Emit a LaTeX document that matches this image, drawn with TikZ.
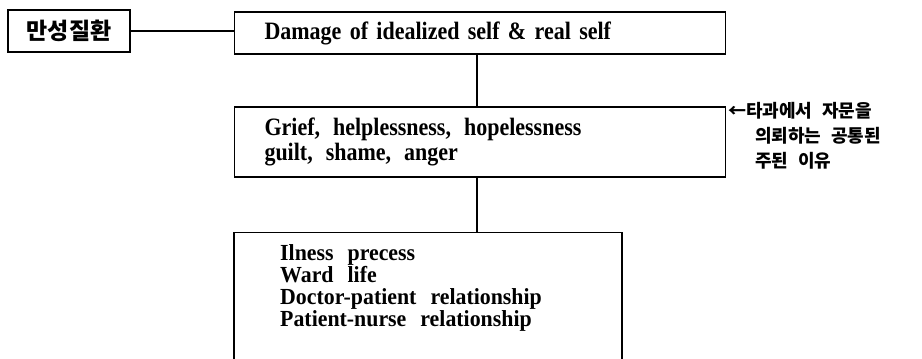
\documentclass[tikz,border=0pt]{standalone}
\usepackage{fontspec}
\setmainfont{Liberation Serif}[FakeStretch=0.88]
\newfontfamily\latb{Liberation Serif}[FakeStretch=0.95]
\newfontfamily\kr{Noto Sans CJK KR}
\newcommand\latfnt{\bfseries\fontsize{25}{25}\selectfont\setlength{\spaceskip}{14pt plus 1pt}}
\newcommand\latfntb{\latb\bfseries\fontsize{23}{21.7}\selectfont\setlength{\spaceskip}{14pt plus 1pt}\setlength{\lineskiplimit}{-30pt}}
\newcommand\krfnt{\kr\bfseries\fontsize{18}{25}\selectfont\setlength{\spaceskip}{10pt}}
\newcommand\sep{\hspace{13pt}}
\begin{document}
\begin{tikzpicture}[x=1pt,y=-1pt,
  box/.style={draw, line width=1.2pt, rectangle, inner sep=0pt},
  con/.style={line width=1.2pt}]
\useasboundingbox (0,0) rectangle (922,359);
\clip (0,0) rectangle (922,359);
\node[box, minimum width=122pt, minimum height=42pt,
      font=\kr\bfseries\fontsize{23}{23}\selectfont] (k) at (69,31) {만성질환};
\node[box, font=\latfnt, minimum height=42pt, inner xsep=30pt, text width=431pt, align=left]
  (a) at (480,33) {\raisebox{-2pt}{Damage of idealized self \& real self}};
\node[box, font=\latfnt, minimum height=70pt, inner xsep=30pt, text width=431pt, align=left]
  (b) at (480,142) {Grief,\sep helplessness,\sep hopelessness\\guilt,\sep shame,\sep anger};
\node[box, minimum width=388pt, minimum height=150pt, anchor=north] (c) at (428,232) {};
\node[font=\latfntb, inner sep=0pt, align=left, anchor=base west]
  (ct) at (280,326) {Ilness precess\\Ward life\\Doctor-patient relationship\\Patient-nurse relationship};
\node[font=\krfnt, inner sep=0pt, align=left, anchor=base west]
  (n) at (728,167) {←타과에서 자문을\\\hspace*{27pt}의뢰하는 공통된\\\hspace*{27pt}주된 이유};
\draw[con] (k.east) -- (k.east -| a.west);
\draw[con] ([xshift=-3pt]a.south) -- ([xshift=-3pt]b.north);
\draw[con] ([xshift=-3pt]b.south) -- ([xshift=-3pt]b.south |- c.north);
\end{tikzpicture}
\end{document}
